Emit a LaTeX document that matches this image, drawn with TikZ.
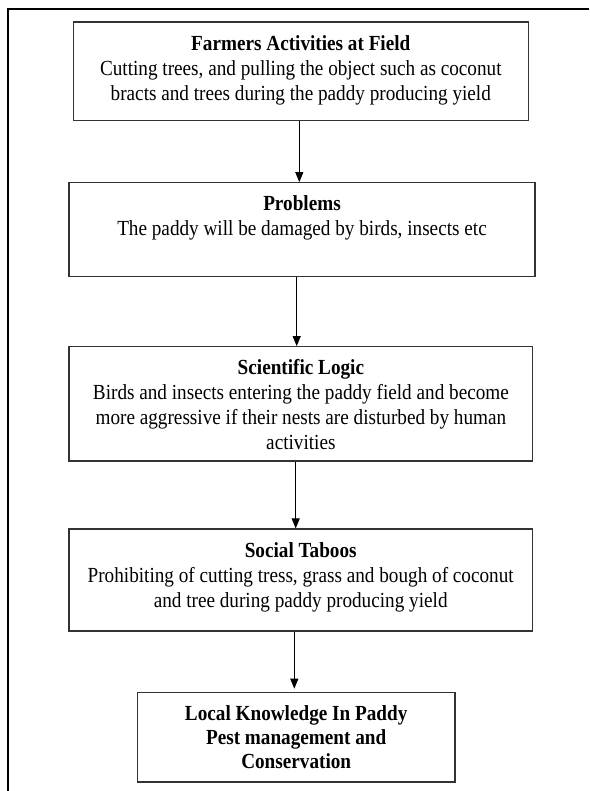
\documentclass[tikz,border=0pt]{standalone}
\usepackage{fontspec}
\setmainfont[FakeStretch=0.893]{Liberation Serif}
\usetikzlibrary{arrows.meta}
\begin{document}
\begin{tikzpicture}[x=1pt,y=-1pt,
  box/.style={draw=black!80, line width=1.2pt, inner sep=0pt, fill=none},
  txt/.style={inner sep=0pt, align=center, anchor=north, font=\fontsize{21.5pt}{25pt}\selectfont},
  arr/.style={draw=black, line width=1pt, -{Triangle[width=8pt,length=10pt]}},
  frame/.style={draw=black, line width=2pt}]
\useasboundingbox (0,0) rectangle (589,791);
% outer frame (open on the right and bottom)
\coordinate (fbl) at (7.7,791);
\coordinate (ftl) at (7.7,9);
\coordinate (ftr) at (589,9);
\draw[frame] (fbl) -- (ftl) -- (ftr);
% boxes
\node[box, minimum width=455pt, minimum height=98.7pt] (b1) at (300.8,71.35) {};
\node[box, minimum width=466pt, minimum height=94pt] (b2) at (302,229.7) {};
\node[box, minimum width=463.7pt, minimum height=114.3pt] (b3) at (300.9,403.85) {};
\node[box, minimum width=463.3pt, minimum height=102pt] (b4) at (300.7,580) {};
\node[box, minimum width=317.7pt, minimum height=89.3pt] (b5) at (296.2,737.35) {};
% texts
\node[txt] (t1) at (300.8,34) {\rule{0pt}{16pt}\textbf{Farmers Activities at Field}\\
Cutting trees, and pulling the object such as coconut\\
bracts and trees during the paddy producing yield};
\node[txt] (t2) at (302,194) {\rule{0pt}{16pt}\textbf{Problems}\\
The paddy will be damaged by birds, insects etc};
\node[txt] (t3) at (300.9,358) {\rule{0pt}{16pt}\textbf{Scientific Logic}\\
Birds and insects entering the paddy field and become\\
more aggressive if their nests are disturbed by human\\
activities};
\node[txt] (t4) at (300.7,541) {\rule{0pt}{16pt}\textbf{Social Taboos}\\
Prohibiting of cutting tress, grass and bough of coconut\\
and tree during paddy producing yield};
\node[txt, font=\fontsize{21.5pt}{24.2pt}\selectfont] (t5) at (296.2,704.3) {\rule{0pt}{16pt}\textbf{Local Knowledge In Paddy}\\
\textbf{Pest management and}\\
\textbf{Conservation}};
% arrow columns
\coordinate (x1) at (299.3,0);
\coordinate (x2) at (296.7,0);
\coordinate (x3) at (295.7,0);
\coordinate (x4) at (294.3,0);
\coordinate (e4) at (294.3,688.7);
\draw[arr] (b1.south -| x1) -- (b2.north -| x1);
\draw[arr] (b2.south -| x2) -- (b3.north -| x2);
\draw[arr] (b3.south -| x3) -- (b4.north -| x3);
\draw[arr] (b4.south -| x4) -- (e4);
\end{tikzpicture}
\end{document}
